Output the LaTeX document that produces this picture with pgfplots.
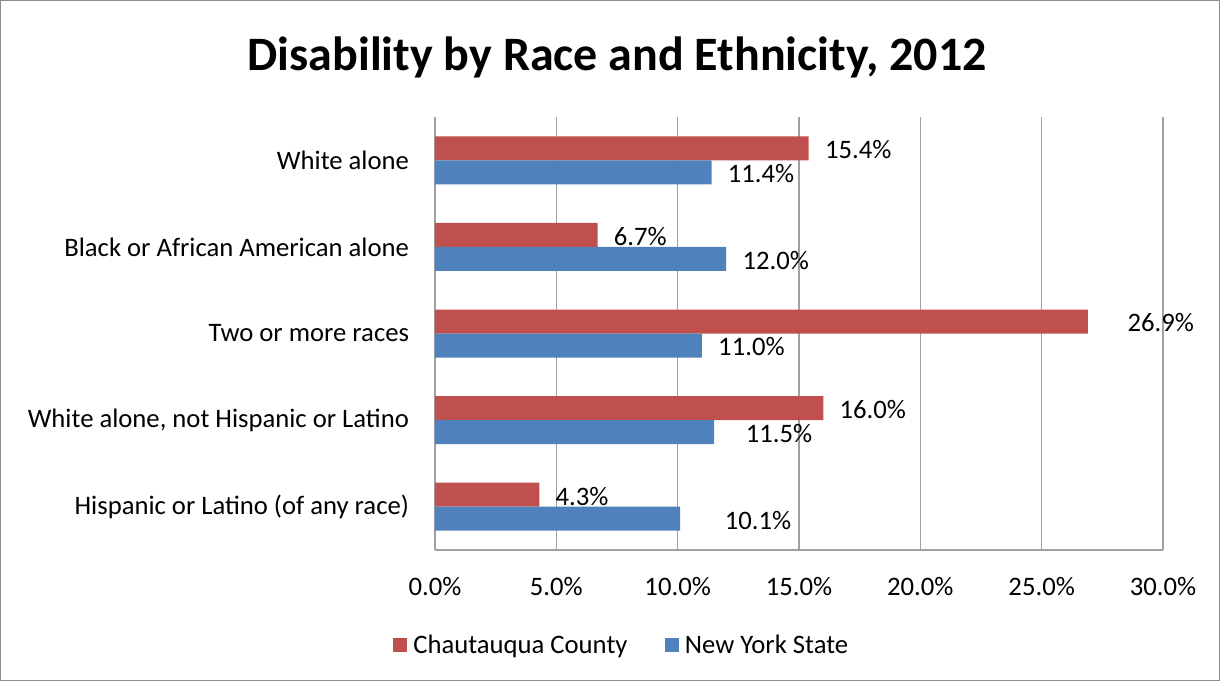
\documentclass[border=0pt]{standalone}
\usepackage{pgfplots}
\pgfplotsset{compat=1.18}
\usepackage{pgfplotstable}
\usepackage{fontspec}
\setmainfont{Carlito}
\definecolor{cred}{HTML}{C0504D}
\definecolor{cblue}{HTML}{4F81BD}
\definecolor{gridc}{HTML}{A0A0A0}
\definecolor{framec}{HTML}{8C8C8C}

\pgfplotstableread{
y x dx
0 15.4 8.7
1 6.7 8.7
2 26.9 26.3
3 16.0 8.7
4 4.3 8.7
}\reddata
\pgfplotstableread{
y x dx
0 11.4 8.7
1 12.0 8.7
2 11.0 8.7
3 11.5 20.3
4 10.1 30.0
}\bluedata

\begin{document}
\begin{tikzpicture}[font=\fontsize{20}{23}\selectfont]
\useasboundingbox (-326.25pt,-98.25pt) rectangle (588.75pt,412.5pt);
\draw[framec, line width=0.75pt] (-325.9pt,-97.9pt) rectangle (588.4pt,412.15pt);
\begin{axis}[
  at={(0,0)}, anchor=south west,
  scale only axis, width=546pt, height=324.75pt,
  /pgf/number format/assume math mode=true,
  xbar=0pt, bar width=18pt,
  xmin=0, xmax=30, ymin=-0.5, ymax=4.5, y dir=reverse,
  axis x line*=bottom, axis y line*=left,
  axis line style={gridc, line width=1pt, -},
  xtick={0,5,10,15,20,25,30},
  xmajorgrids, grid style={gridc, line width=0.9pt},
  ytick={0,1,2,3,4},
  yticklabels={White alone, Black or African American alone, Two or more races, {White alone, not Hispanic or Latino}, Hispanic or Latino (of any race)},
  major tick length=0pt,
  xticklabel={\pgfmathprintnumber[fixed,fixed zerofill,precision=1]{\tick}\%},
  xticklabel style={yshift=-17pt},
  yticklabel style={xshift=-16pt},
  point meta=x,
  nodes near coords={\pgfmathprintnumber[fixed,fixed zerofill,precision=1]{\pgfplotspointmeta}\%},
  visualization depends on={\thisrow{dx} \as \dx},
  nodes near coords style={anchor=west, xshift=\dx pt, yshift=-1pt, text=black},
  legend style={at={(0.257,-0.219)}, anchor=center, draw=none, fill=none,
    legend columns=2, /tikz/every even column/.append style={column sep=26pt}},
  legend image code/.code={\path[#1, draw=none] (0pt,-5.25pt) rectangle (10.5pt,5.25pt); \path (13pt,0pt);},
]
\addplot[fill=cred, draw=none, bar shift=9pt] table[x=x, y=y] {\reddata};
\addlegendentry{Chautauqua County}
\addplot[fill=cblue, draw=none, bar shift=-9pt] table[x=x, y=y] {\bluedata};
\addlegendentry{New York State}
\end{axis}
\node[font=\fontsize{36}{40}\selectfont\bfseries] at (136.5pt,369.75pt) {Disability by Race and Ethnicity, 2012};
\end{tikzpicture}
\end{document}
